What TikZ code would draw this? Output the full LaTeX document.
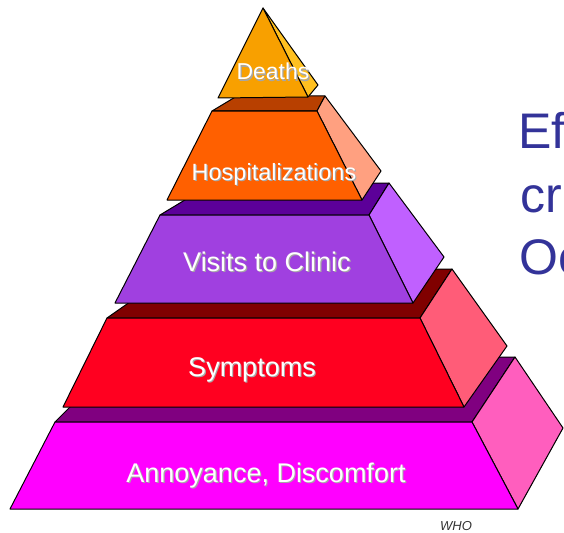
\documentclass[tikz,border=0pt]{standalone}
\usepackage{fontspec}
\setmainfont{Liberation Sans}
\usepackage{xcolor}
\usepackage{tikz}
\definecolor{ann-front}{RGB}{255,0,255}
\definecolor{ann-top}{RGB}{128,0,128}
\definecolor{ann-side}{RGB}{255,94,190}
\definecolor{sym-front}{RGB}{255,0,32}
\definecolor{sym-top}{RGB}{128,0,0}
\definecolor{sym-side}{RGB}{255,92,120}
\definecolor{vis-front}{RGB}{160,64,224}
\definecolor{vis-top}{RGB}{92,0,153}
\definecolor{vis-side}{RGB}{192,96,255}
\definecolor{hos-front}{RGB}{255,96,0}
\definecolor{hos-top}{RGB}{184,64,0}
\definecolor{hos-side}{RGB}{255,160,128}
\definecolor{dea-front}{RGB}{248,160,0}
\definecolor{dea-side}{RGB}{255,192,32}
\definecolor{title-blue}{RGB}{51,51,153}
\newcommand{\shadowed}[1]{\rlap{\kern1.2pt\raisebox{-1.2pt}{\textcolor{gray!70}{#1}}}#1}

\begin{document}
\begin{tikzpicture}[x=1pt, y=-1pt]
				\tikzset{face/.style={draw=black, line width=1pt, line join=round}}
				\tikzset{lbl/.style={text=white, inner sep=0pt, anchor=base}}
				\tikzset{title/.style={text=title-blue, inner sep=0pt, anchor=base west, font=\fontsize{50}{50}\selectfont}}
				\useasboundingbox (0,0) rectangle (564,532);
				
				% Annoyance, Discomfort
				\draw[face, fill=ann-top] (55,422) -- (120,357) -- (515,357) -- (472,422) -- cycle;
				\draw[face, fill=ann-side] (472,422) -- (515,357) -- (563,428) -- (518,509) -- cycle;
				\draw[face, fill=ann-front] (10,509) -- (55,422) -- (472,422) -- (518,509) -- cycle;
				\node[lbl, font=\fontsize{27}{27}\selectfont] (annoyance) at (266,482) {\shadowed{Annoyance, Discomfort}};
				
				% Symptoms
				\draw[face, fill=sym-top] (107,318) -- (177,269) -- (452,269) -- (420,318) -- cycle;
				\draw[face, fill=sym-side] (420,318) -- (452,269) -- (507,346) -- (464,407) -- cycle;
				\draw[face, fill=sym-front] (63,407) -- (107,318) -- (420,318) -- (464,407) -- cycle;
				\node[lbl, font=\fontsize{27}{27}\selectfont] (symptoms) at (252,376) {\shadowed{Symptoms}};
				
				% Visits to Clinic
				\draw[face, fill=vis-top] (160,215) -- (213,183) -- (389,183) -- (369,215) -- cycle;
				\draw[face, fill=vis-side] (369,215) -- (389,183) -- (444,257) -- (413,303) -- cycle;
				\draw[face, fill=vis-front] (115,303) -- (160,215) -- (369,215) -- (413,303) -- cycle;
				\node[lbl, font=\fontsize{27}{27}\selectfont] (visits) at (267,271) {\shadowed{Visits to Clinic}};
				
				% Hospitalizations
				\draw[face, fill=hos-top] (212,111) -- (237,96) -- (325,96) -- (317,111) -- cycle;
				\draw[face, fill=hos-side] (317,111) -- (325,96) -- (381,171) -- (362,200) -- cycle;
				\draw[face, fill=hos-front] (167,200) -- (212,111) -- (317,111) -- (362,200) -- cycle;
				\node[lbl, font=\fontsize{23.5}{23.5}\selectfont] (hosp) at (274,180) {\shadowed{Hospitalizations}};
				
				% Deaths
				\draw[face, fill=dea-side] (263,8) -- (318,85) -- (308,97) -- cycle;
				\draw[face, fill=dea-front] (263,8) -- (218,98) -- (308,97) -- cycle;
				\node[lbl, font=\fontsize{23}{23}\selectfont] (deaths) at (273,80) {\shadowed{Deaths}};
				
				% cut-off title on the right
				\node[title] (title1) at (518,148) {Ef};
				\node[title] (title2) at (520,212) {cr};
				\node[title] (title3) at (519.5,274) {Oc};
				\node[anchor=base, inner sep=0pt, text=black!80, font=\fontsize{13}{13}\selectfont\itshape] (who) at (456,530) {WHO};
			\end{tikzpicture}
\end{document}
